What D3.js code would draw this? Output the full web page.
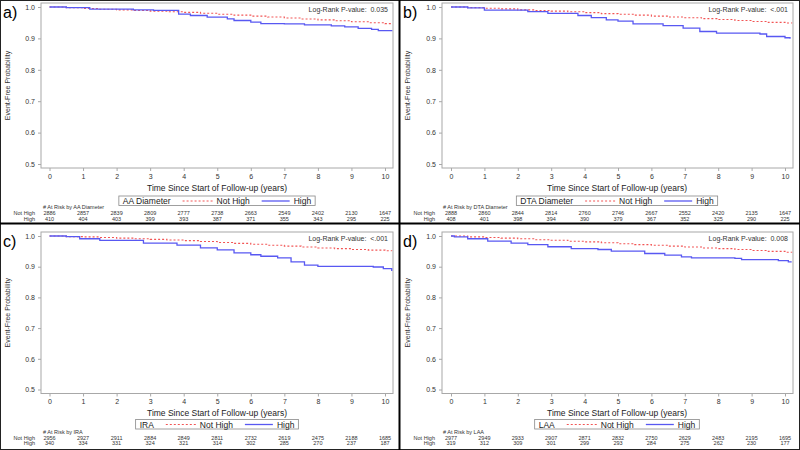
<!DOCTYPE html>
<html><head><meta charset="utf-8">
<script src="https://cdn.jsdelivr.net/npm/d3@7"></script>
<style>body{margin:0;background:#fff}svg{display:block;font-family:Arial,"Liberation Sans",sans-serif}</style>
</head><body><svg id="c" width="800" height="450"></svg>
<script>
const yearTicks = [0,1,2,3,4,5,6,7,8,9,10];
const yTicks = [0.5,0.6,0.7,0.8,0.9,1.0];

const aNotHigh = [[0,1],[0.5,0.998],[1,0.995],[1.5,0.993],[2,0.991],[2.5,0.989],[3,0.987],[3.5,0.985],[4,0.983],[4.5,0.980],[5,0.977],[5.5,0.974],[6,0.971],[6.5,0.968],[7,0.965],[7.5,0.962],[8,0.959],[8.5,0.956],[9,0.953],[9.5,0.950],[10,0.947],[10.2,0.946]];
const aHigh = [[0,1],[0.5,0.998],[1.2,0.993],[2.5,0.991],[3.1,0.989],[3.85,0.977],[4.2,0.973],[4.7,0.968],[5.3,0.962],[5.5,0.957],[6.0,0.952],[6.3,0.947],[7.0,0.946],[7.6,0.943],[8.4,0.940],[8.8,0.937],[9.2,0.932],[9.6,0.929],[9.8,0.925],[10.2,0.923]];
const bNotHigh = [[0,1],[0.5,0.998],[1,0.996],[1.5,0.994],[2,0.991],[2.5,0.989],[3,0.987],[3.5,0.985],[4,0.982],[4.5,0.979],[5,0.977],[5.5,0.974],[6,0.971],[6.5,0.968],[7,0.966],[7.5,0.963],[8,0.960],[8.5,0.957],[9,0.954],[9.5,0.951],[10,0.949],[10.2,0.948]];
const bHigh = [[0,1],[0.5,0.997],[1.0,0.990],[2.3,0.985],[2.9,0.980],[3.8,0.973],[4.2,0.966],[4.65,0.959],[5.0,0.955],[5.45,0.946],[6.35,0.941],[6.95,0.933],[7.45,0.922],[7.95,0.917],[9.25,0.914],[9.45,0.906],[10.0,0.902],[10.15,0.899]];
const cNotHigh = [[0,1],[0.5,0.998],[1,0.997],[1.5,0.995],[2,0.993],[2.5,0.991],[3,0.989],[3.5,0.987],[4,0.985],[4.5,0.982],[5,0.979],[5.5,0.976],[6,0.973],[6.5,0.970],[7,0.967],[7.5,0.964],[8,0.961],[8.5,0.959],[9,0.956],[9.5,0.954],[10,0.952],[10.2,0.951]];
const cHigh = [[0,1],[0.5,0.998],[0.9,0.991],[1.5,0.986],[2.8,0.977],[3.8,0.970],[4.5,0.961],[5.0,0.955],[5.5,0.945],[6.0,0.939],[6.3,0.934],[6.8,0.929],[7.2,0.916],[7.6,0.905],[8.0,0.901],[9.65,0.899],[9.95,0.894],[10.2,0.886]];
const dNotHigh = [[0,1],[0.5,0.997],[1,0.995],[1.5,0.993],[2,0.991],[2.5,0.988],[3,0.986],[3.5,0.983],[4,0.981],[4.5,0.978],[5,0.975],[5.5,0.972],[6,0.970],[6.5,0.967],[7,0.964],[7.5,0.961],[8,0.959],[8.5,0.956],[9,0.953],[9.5,0.950],[10,0.947],[10.2,0.946]];
const dHigh = [[0,1],[0.1,0.997],[0.5,0.991],[1.1,0.983],[1.8,0.977],[2.3,0.972],[2.9,0.965],[3.6,0.959],[4.4,0.956],[4.8,0.951],[5.8,0.943],[6.4,0.938],[6.9,0.932],[7.2,0.929],[8.5,0.927],[8.7,0.923],[9.8,0.920],[10.1,0.916],[10.2,0.916]];

const aRiskNot = [2886,2857,2839,2809,2777,2738,2663,2549,2402,2130,1647];
const aRiskHigh = [410,404,403,399,393,387,371,355,343,295,225];
const bRiskNot = [2888,2860,2844,2814,2760,2746,2667,2552,2420,2135,1647];
const bRiskHigh = [408,401,398,394,390,379,367,352,325,290,225];
const cRiskNot = [2956,2927,2911,2884,2849,2811,2732,2619,2475,2188,1685];
const cRiskHigh = [340,334,331,324,321,314,302,285,270,237,187];
const dRiskNot = [2977,2949,2933,2907,2871,2832,2750,2629,2483,2195,1695];
const dRiskHigh = [319,312,309,301,299,293,284,275,262,230,177];

const panelLetters = ["a)","b)","c)","d)"];
const groupNames = ["AA Diameter","DTA Diameter","IRA","LAA"];
const pValues = ["0.035","<.001","<.001","0.008"];

// offsets below the plot frame: x title, legend, at-risk title, row1, row2
const topOff = [23, 33, 41, 47, 52.5];
const botOff = [22, 31, 40, 46, 51.5];

const panels = [
  {letter:panelLetters[0], group:groupNames[0], p:pValues[0], nh:aNotHigh, h:aHigh, rn:aRiskNot, rh:aRiskHigh, x0:0, y0:0, yTop:7, yBot:164, off:topOff},
  {letter:panelLetters[1], group:groupNames[1], p:pValues[1], nh:bNotHigh, h:bHigh, rn:bRiskNot, rh:bRiskHigh, x0:400, y0:0, yTop:7, yBot:164, off:topOff},
  {letter:panelLetters[2], group:groupNames[2], p:pValues[2], nh:cNotHigh, h:cHigh, rn:cRiskNot, rh:cRiskHigh, x0:0, y0:225, yTop:11, yBot:164.5, off:botOff},
  {letter:panelLetters[3], group:groupNames[3], p:pValues[3], nh:dNotHigh, h:dHigh, rn:dRiskNot, rh:dRiskHigh, x0:400, y0:225, yTop:11, yBot:164.5, off:botOff}
];

const svg = d3.select("#c");
const RED = "#f25555", BLUE = "#5858f2", FRAME = "#a8a8a8", TXT = "#333";

panels.forEach((p,i) => {
  const g = svg.append("g").attr("transform", `translate(${p.x0},${p.y0})`);
  const xL = i%2===0 ? 41 : 42, xR = 393;
  const x = d3.scaleLinear().domain([0,10]).range([i%2===0?49.5:51, 385]);
  const y = d3.scaleLinear().domain([0.5,1.0]).range([p.yBot, p.yTop]);
  const top = p.yTop - 4, bot = p.yBot + 4;
  const o = p.off;

  g.append("rect").attr("x", xL).attr("y", top).attr("width", xR-xL).attr("height", bot-top)
    .attr("fill","#fff").attr("stroke",FRAME).attr("stroke-width",1);

  const ya = g.append("g").attr("transform",`translate(${xL},0)`)
    .call(d3.axisLeft(y).tickValues(yTicks).tickFormat(d3.format(".1f")).tickSize(3).tickPadding(3));
  ya.select(".domain").remove();
  ya.selectAll("line").attr("stroke",FRAME);
  ya.selectAll("text").attr("font-size",7).attr("fill",TXT).attr("font-family","Arial, Liberation Sans");

  const xa = g.append("g").attr("transform",`translate(0,${bot})`)
    .call(d3.axisBottom(x).tickValues(yearTicks).tickFormat(d3.format("d")).tickSize(3).tickPadding(3));
  xa.select(".domain").remove();
  xa.selectAll("line").attr("stroke",FRAME);
  xa.selectAll("text").attr("font-size",7).attr("fill",TXT).attr("font-family","Arial, Liberation Sans");

  const line = d3.line().x(d=>x(d[0])).y(d=>y(d[1])).curve(d3.curveStepAfter);
  g.append("path").attr("d", line(p.nh)).attr("fill","none").attr("stroke",RED)
    .attr("stroke-width",1.1).attr("stroke-dasharray","2,2");
  g.append("path").attr("d", line(p.h)).attr("fill","none").attr("stroke",BLUE).attr("stroke-width",1.3);

  g.append("text").attr("x",3).attr("y",p.yTop+11).attr("font-size",16).attr("fill","#000").text(p.letter);

  g.append("text").attr("transform",`translate(10,${(p.yTop+p.yBot)/2}) rotate(-90)`)
    .attr("text-anchor","middle").attr("font-size",7).attr("fill",TXT).text("Event-Free Probability");

  g.append("text").attr("x",388).attr("y",p.yTop+5).attr("text-anchor","end")
    .attr("font-size",7).attr("fill",TXT).attr("xml:space","preserve").text("Log-Rank P-value:  " + p.p);

  g.append("text").attr("x",217).attr("y",bot+o[0]).attr("text-anchor","middle")
    .attr("font-size",8.5).attr("fill","#222").text("Time Since Start of Follow-up (years)");

  // legend
  const ly = bot + o[1];
  const lg = g.append("g");
  const lb = lg.append("rect").attr("y", ly-5).attr("height",9.5).attr("fill","#fff").attr("stroke","#888").attr("stroke-width",0.8);
  const t1 = lg.append("text").attr("y",ly+3).attr("font-size",8.5).attr("fill","#222").text(p.group);
  const w1 = t1.node().getComputedTextLength();
  const s1 = lg.append("line").attr("y1",ly).attr("y2",ly).attr("stroke",RED).attr("stroke-dasharray","2,2").attr("stroke-width",1);
  const t2 = lg.append("text").attr("y",ly+3).attr("font-size",8.5).attr("fill","#222").text("Not High");
  const w2 = t2.node().getComputedTextLength();
  const s2 = lg.append("line").attr("y1",ly).attr("y2",ly).attr("stroke",BLUE).attr("stroke-width",1.3);
  const t3 = lg.append("text").attr("y",ly+3).attr("font-size",8.5).attr("fill","#222").text("High");
  const w3 = t3.node().getComputedTextLength();
  const total = 4 + w1 + 12 + 30 + 4 + w2 + 12 + 28 + 4 + w3 + 4;
  let lx = 217 - total/2;
  lb.attr("x", lx).attr("width", total);
  t1.attr("x", lx+4);
  let px = lx + 4 + w1 + 12;
  s1.attr("x1", px).attr("x2", px+30); px += 34;
  t2.attr("x", px); px += w2 + 12;
  s2.attr("x1", px).attr("x2", px+28); px += 32;
  t3.attr("x", px);

  // at risk table
  g.append("text").attr("x",43).attr("y",bot+o[2]).attr("font-size",5.5).attr("fill",TXT).text("# At Risk by " + p.group);
  g.append("text").attr("x",35).attr("y",bot+o[3]).attr("text-anchor","end").attr("font-size",5.5).attr("fill",TXT).text("Not High");
  g.append("text").attr("x",35).attr("y",bot+o[4]).attr("text-anchor","end").attr("font-size",5.5).attr("fill",TXT).text("High");
  g.selectAll(".rn").data(p.rn).enter().append("text").attr("x",(d,k)=>x(yearTicks[k])).attr("y",bot+o[3])
    .attr("text-anchor","middle").attr("font-size",5.5).attr("fill",TXT).text(d=>d);
  g.selectAll(".rh").data(p.rh).enter().append("text").attr("x",(d,k)=>x(yearTicks[k])).attr("y",bot+o[4])
    .attr("text-anchor","middle").attr("font-size",5.5).attr("fill",TXT).text(d=>d);
});

svg.append("rect").attr("x",0.5).attr("y",0.5).attr("width",799).attr("height",449).attr("fill","none").attr("stroke","#222").attr("stroke-width",1);
svg.append("line").attr("x1",399.5).attr("x2",399.5).attr("y1",0).attr("y2",450).attr("stroke","#000").attr("stroke-width",2);
svg.append("line").attr("x1",0).attr("x2",800).attr("y1",223.5).attr("y2",223.5).attr("stroke","#000").attr("stroke-width",2);
</script></body></html>
